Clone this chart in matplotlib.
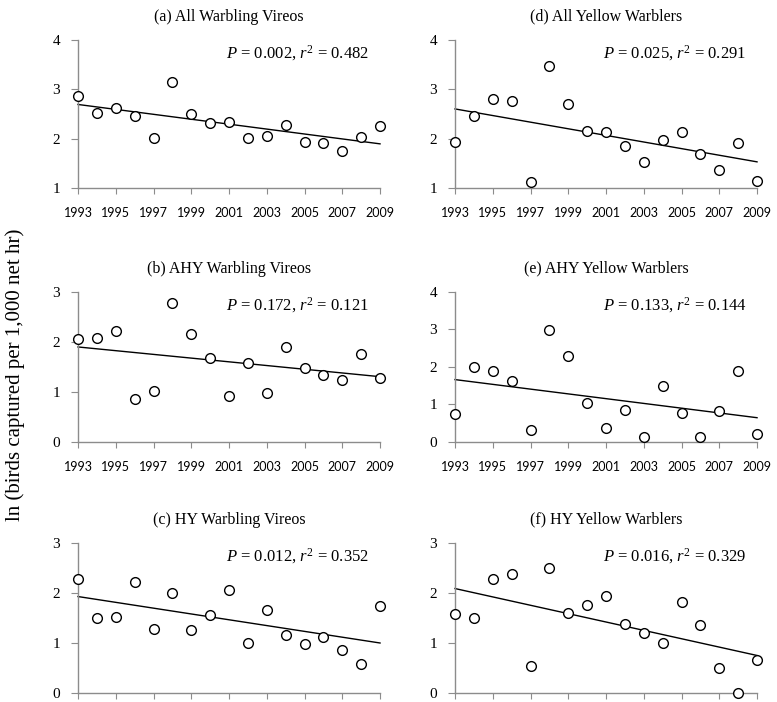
import numpy as np
import matplotlib.pyplot as plt

plt.rcParams['mathtext.fontset'] = 'custom'
plt.rcParams['mathtext.it'] = 'Liberation Serif:italic'
plt.rcParams['mathtext.rm'] = 'Liberation Serif'

years = np.arange(1993, 2010)

all_wavi = [2.87, 2.52, 2.62, 2.45, 2.01, 3.15, 2.50, 2.32, 2.33, 2.01, 2.05, 2.28, 1.94, 1.92, 1.75, 2.03, 2.25]
ahy_wavi = [2.05, 2.08, 2.22, 0.86, 1.01, 2.77, 2.16, 1.67, 0.91, 1.57, 0.97, 1.89, 1.47, 1.34, 1.24, 1.76, 1.28]
hy_wavi = [2.29, 1.51, 1.53, 2.22, 1.28, 2.01, 1.26, 1.57, 2.07, 1.01, 1.66, 1.17, 0.99, 1.13, 0.87, 0.59, 1.74]
all_yewa = [1.94, 2.46, 2.81, 2.76, 1.13, 3.47, 2.70, 2.15, 2.13, 1.85, 1.52, 1.97, 2.13, 1.68, 1.36, 1.92, 1.15]
ahy_yewa = [0.74, 2.01, 1.90, 1.62, 0.32, 2.98, 2.29, 1.05, 0.38, 0.86, 0.13, 1.50, 0.78, 0.13, 0.83, 1.90, 0.22]
hy_yewa = [1.59, 1.51, 2.29, 2.39, 0.55, 2.49, 1.61, 1.76, 1.95, 1.39, 1.21, 1.01, 1.83, 1.37, 0.51, 0.01, 0.67]

titles = ["(a) All Warbling Vireos", "(b) AHY Warbling Vireos", "(c) HY Warbling Vireos",
          "(d) All Yellow Warblers", "(e) AHY Yellow Warblers", "(f) HY Yellow Warblers"]
stats = [("0.002", "0.482"), ("0.172", "0.121"), ("0.012", "0.352"),
         ("0.025", "0.291"), ("0.133", "0.144"), ("0.016", "0.329")]
series = [all_wavi, ahy_wavi, hy_wavi, all_yewa, ahy_yewa, hy_yewa]
ylims = [(1, 4), (0, 3), (0, 3), (1, 4), (0, 4), (0, 3)]
show_xlabels = [True, True, False, True, True, False]

serif = "Liberation Serif"
sans = "Lato"
grey = "#8c8c8c"

fig = plt.figure(figsize=(7.77, 7.02), dpi=100)

lefts = [0.1004, 0.5856]
rows = [(0.7322, 0.2108), (0.3704, 0.2137), (0.0128, 0.2137)]

for i in range(6):
    col, row = i // 3, i % 3
    b, h = rows[row]
    ax = fig.add_axes([lefts[col], b, 0.3887, h])
    y = np.array(series[i])

    # regression line
    m, c = np.polyfit(years, y, 1)
    ax.plot([years[0], years[-1]], [m*years[0]+c, m*years[-1]+c], color='black', lw=1.0, clip_on=False)
    ax.plot(years, y, 'o', mfc='white', mec='black', mew=1.0, ms=7, ls='none', clip_on=False, zorder=3)

    ax.set_xlim(1993, 2009)
    ax.set_ylim(*ylims[i])
    ax.set_yticks(range(ylims[i][0], ylims[i][1]+1))
    ax.set_xticks(range(1993, 2010, 2))
    if not show_xlabels[i]:
        ax.set_xticklabels([])

    for s in ['top', 'right']:
        ax.spines[s].set_visible(False)
    for s in ['left', 'bottom']:
        ax.spines[s].set_color(grey)
        ax.spines[s].set_linewidth(1.0)
    ax.tick_params(axis='x', colors=grey, length=4, direction='out', pad=10)
    ax.tick_params(axis='y', colors=grey, length=5, direction='out', pad=8)
    for lab in ax.get_xticklabels():
        lab.set_fontfamily(sans)
        lab.set_fontsize(9)
        lab.set_color('black')
    for lab in ax.get_yticklabels():
        lab.set_fontfamily(serif)
        lab.set_fontsize(11)
        lab.set_color('black')

    ax.set_title(titles[i], fontfamily=serif, fontsize=11.5, pad=14)
    p, r2 = stats[i]
    ax.text(0.965, 0.91, r"$\it{P}$ = " + p + r", $\it{r}^2$ = " + r2,
            transform=ax.transAxes, ha='right', va='center',
            fontfamily=serif, fontsize=12)

fig.text(0.02, 0.466, "ln (birds captured per 1,000 net hr)", rotation=90,
         ha='center', va='center', fontfamily=serif, fontsize=15)

fig.savefig("out.png", dpi=100)
